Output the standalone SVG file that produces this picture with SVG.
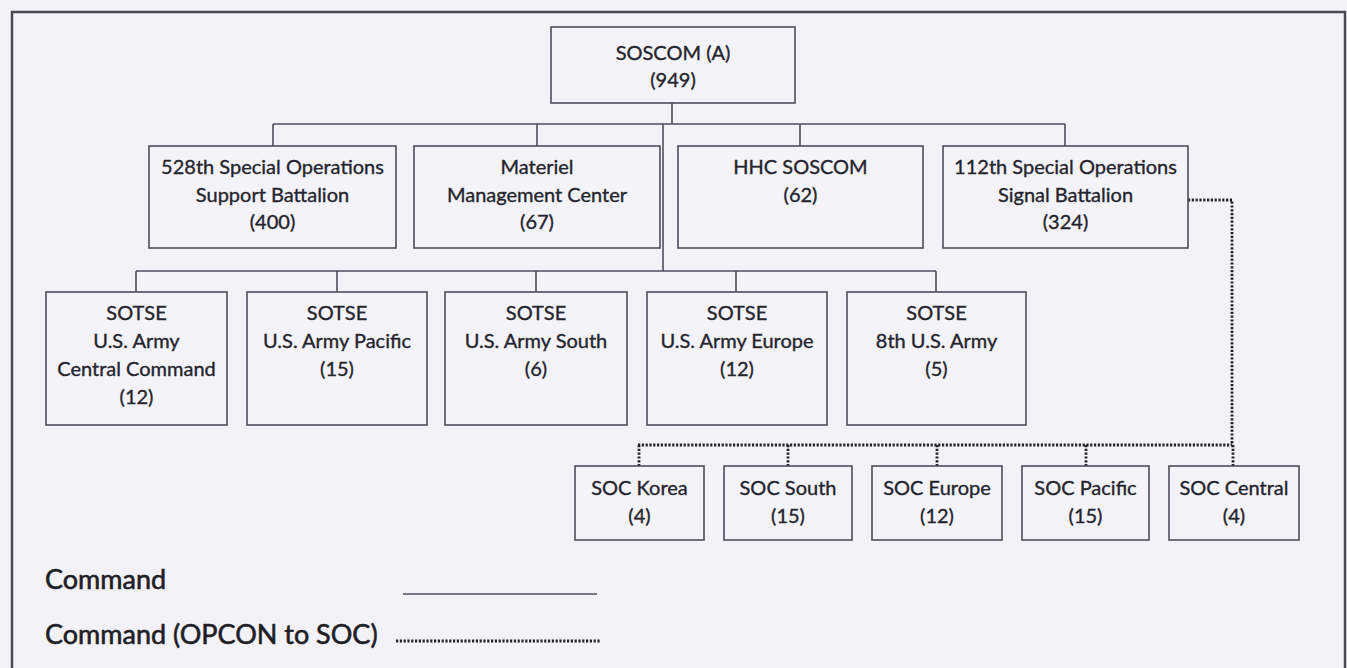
<svg xmlns="http://www.w3.org/2000/svg" width="1347" height="668" viewBox="0 0 1347 668">
<style>
.bg{fill:#f3f2f9}
.frame{fill:none;stroke:#4a4a55;stroke-width:2.5}
.box{fill:#f4f3fa;stroke:#4b4e5c;stroke-width:1.6}
.t{font-family:Lato,"Open Sans","Liberation Sans",sans-serif;font-size:20px;fill:#24242c;stroke:#24242c;stroke-width:0.35;text-anchor:middle}
.leg{font-family:Lato,"Open Sans","Liberation Sans",sans-serif;font-size:27px;fill:#1e1e26;stroke:#1e1e26;stroke-width:0.6}
.ln{fill:none;stroke:#4b4e5c;stroke-width:1.6}
.dot{fill:none;stroke:#22222c;stroke-width:2.8;stroke-dasharray:2.2 1.6}
</style>
<rect class="bg" x="0" y="0" width="1347" height="668"/>
<rect class="frame" x="12" y="12" width="1333" height="680"/>

<g id="connectors">
<path class="ln" d="M672,103 V124 M273,124 H1065 M273,124 V146 M537,124 V146 M800,124 V146 M1065,124 V146 M663,124 V271 M136,271 H936 M136,271 V292 M337,271 V292 M536,271 V292 M736,271 V292 M936,271 V292"/>
<path class="dot" d="M1188,200 H1232 V445 M638,445 H1232 M639,445 V466 M788,445 V466 M937,445 V466 M1086,445 V466 M1233,445 V466"/>
</g>

<g id="soscom"><rect class="box" x="551" y="27" width="244" height="76"/>
<text class="t" x="673" y="60">SOSCOM (A)</text><text class="t" x="673" y="87">(949)</text></g>

<g id="n528"><rect class="box" x="149" y="146" width="247" height="102"/>
<text class="t" x="272.5" y="174">528th Special Operations</text><text class="t" x="272.5" y="202">Support Battalion</text><text class="t" x="272.5" y="229">(400)</text></g>
<g id="mmc"><rect class="box" x="414" y="146" width="246" height="102"/>
<text class="t" x="537" y="174">Materiel</text><text class="t" x="537" y="202">Management Center</text><text class="t" x="537" y="229">(67)</text></g>
<g id="hhc"><rect class="box" x="678" y="146" width="245" height="102"/>
<text class="t" x="800.5" y="174">HHC SOSCOM</text><text class="t" x="800.5" y="202">(62)</text></g>
<g id="n112"><rect class="box" x="943" y="146" width="245" height="102"/>
<text class="t" x="1065.5" y="174">112th Special Operations</text><text class="t" x="1065.5" y="202">Signal Battalion</text><text class="t" x="1065.5" y="229">(324)</text></g>

<g id="sotse-central"><rect class="box" x="46" y="292" width="181" height="133"/>
<text class="t" x="136.5" y="320">SOTSE</text><text class="t" x="136.5" y="348">U.S. Army</text><text class="t" x="136.5" y="376">Central Command</text><text class="t" x="136.5" y="404">(12)</text></g>
<g id="sotse-pacific"><rect class="box" x="247" y="292" width="180" height="133"/>
<text class="t" x="337" y="320">SOTSE</text><text class="t" x="337" y="348">U.S. Army Pacific</text><text class="t" x="337" y="376">(15)</text></g>
<g id="sotse-south"><rect class="box" x="445" y="292" width="182" height="133"/>
<text class="t" x="536" y="320">SOTSE</text><text class="t" x="536" y="348">U.S. Army South</text><text class="t" x="536" y="376">(6)</text></g>
<g id="sotse-europe"><rect class="box" x="647" y="292" width="180" height="133"/>
<text class="t" x="737" y="320">SOTSE</text><text class="t" x="737" y="348">U.S. Army Europe</text><text class="t" x="737" y="376">(12)</text></g>
<g id="sotse-8th"><rect class="box" x="847" y="292" width="179" height="133"/>
<text class="t" x="936.5" y="320">SOTSE</text><text class="t" x="936.5" y="348">8th U.S. Army</text><text class="t" x="936.5" y="376">(5)</text></g>

<g id="soc-korea"><rect class="box" x="575" y="466" width="129" height="74"/>
<text class="t" x="639.5" y="495">SOC Korea</text><text class="t" x="639.5" y="523">(4)</text></g>
<g id="soc-south"><rect class="box" x="724" y="466" width="128" height="74"/>
<text class="t" x="788" y="495">SOC South</text><text class="t" x="788" y="523">(15)</text></g>
<g id="soc-europe"><rect class="box" x="872" y="466" width="130" height="74"/>
<text class="t" x="937" y="495">SOC Europe</text><text class="t" x="937" y="523">(12)</text></g>
<g id="soc-pacific"><rect class="box" x="1022" y="466" width="127" height="74"/>
<text class="t" x="1085.5" y="495">SOC Pacific</text><text class="t" x="1085.5" y="523">(15)</text></g>
<g id="soc-central"><rect class="box" x="1169" y="466" width="130" height="74"/>
<text class="t" x="1234" y="495">SOC Central</text><text class="t" x="1234" y="523">(4)</text></g>

<g id="legend">
<text class="leg" x="45" y="589">Command</text>
<line x1="403" y1="594" x2="597" y2="594" stroke="#4b4e5c" stroke-width="1.6"/>
<text class="leg" x="45" y="644">Command (OPCON to SOC)</text>
<line class="dot" x1="396" y1="641" x2="600" y2="641"/>
</g>
</svg>
